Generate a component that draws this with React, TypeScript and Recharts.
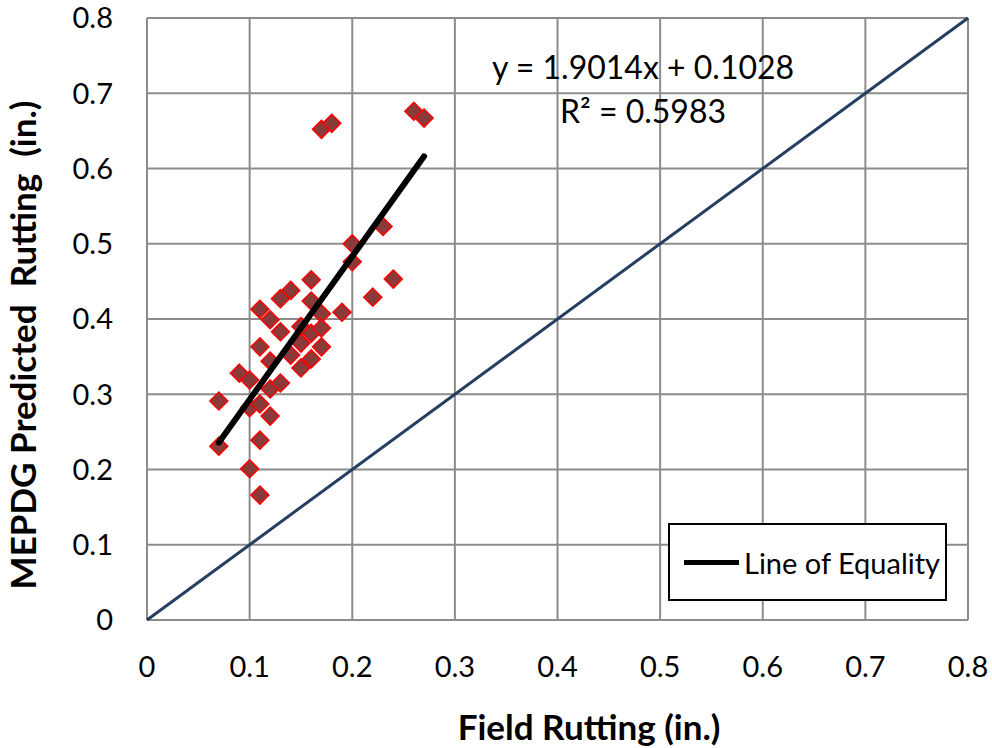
import { CartesianGrid, Scatter, ScatterChart, XAxis, YAxis } from 'recharts';

const fieldRutting = [
	0.07, 0.07, 0.09, 0.1, 0.1, 0.1, 0.11, 0.11, 0.11, 0.11, 0.11, 0.12, 0.12, 0.12, 0.12, 0.13, 0.13, 0.13, 0.14, 0.14,
	0.15, 0.15, 0.15, 0.16, 0.16, 0.16, 0.16, 0.17, 0.17, 0.17, 0.17, 0.18, 0.19, 0.2, 0.2, 0.22, 0.23, 0.24, 0.26, 0.27
];
const predictedRutting = [
	0.291, 0.231, 0.328, 0.319, 0.282, 0.201, 0.413, 0.363, 0.287, 0.239, 0.166, 0.399, 0.344, 0.307, 0.271, 0.427, 0.383,
	0.315, 0.438, 0.352, 0.39, 0.368, 0.335, 0.452, 0.424, 0.381, 0.347, 0.652, 0.407, 0.388, 0.363, 0.66, 0.409, 0.5,
	0.476, 0.429, 0.523, 0.453, 0.676, 0.667
];
const ticks = [0, 0.1, 0.2, 0.3, 0.4, 0.5, 0.6, 0.7, 0.8];
const slope = 1.9014;
const intercept = 0.1028;
const trendRange = [0.07, 0.27];
const equalityRange = [0, 0.8];

const points = fieldRutting.map((x, i) => ({ x, y: predictedRutting[i] }));
const trend = trendRange.map((x) => ({ x, y: slope * x + intercept }));
const equality = equalityRange.map((x) => ({ x, y: x }));

const font = 'Lato, "Open Sans", sans-serif';

function Diamond(props: any) {
	const { cx, cy } = props;
	const r = 9;
	return (
		<polygon
			points={`${cx},${cy - r} ${cx + r},${cy} ${cx},${cy + r} ${cx - r},${cy}`}
			fill="#8B3A3A"
			stroke="#FF0000"
			strokeWidth={1.5}
		/>
	);
}

export default function App() {
	return (
		<div style={{ position: 'absolute', left: 0, top: 0, width: 992, height: 748, background: '#fff' }}>
			<ScatterChart width={992} height={748} margin={{ top: 18, right: 24, left: 0, bottom: 0 }}>
				<CartesianGrid stroke="#8c8c8c" strokeWidth={2} />
				<XAxis
					type="number"
					dataKey="x"
					domain={[0, 0.8]}
					ticks={ticks}
					height={128}
					axisLine={{ stroke: '#8c8c8c', strokeWidth: 2 }}
					tickLine={false}
					tickSize={0}
					tickMargin={36}
					tick={{ fill: '#000', fontSize: 29, fontFamily: font }}
				/>
				<YAxis
					type="number"
					dataKey="y"
					domain={[0, 0.8]}
					ticks={ticks}
					width={147}
					axisLine={{ stroke: '#8c8c8c', strokeWidth: 2 }}
					tickLine={false}
					tickSize={0}
					tickMargin={34}
					tick={{ fill: '#000', fontSize: 29, fontFamily: font }}
				/>
				<Scatter
					data={equality}
					line={{ stroke: '#243F60', strokeWidth: 3 }}
					shape={() => null}
					isAnimationActive={false}
				/>
				<Scatter data={points} shape={Diamond} isAnimationActive={false} />
				<Scatter
					data={trend}
					line={{ stroke: '#000', strokeWidth: 6, strokeLinecap: 'round' }}
					shape={() => null}
					isAnimationActive={false}
				/>
			</ScatterChart>
			<div
				style={{
					position: 'absolute',
					left: 668,
					top: 523,
					width: 279,
					height: 78,
					border: '2px solid #000',
					background: '#fff',
					boxSizing: 'border-box',
					display: 'flex',
					alignItems: 'center',
					fontFamily: font,
					fontSize: 29
				}}
			>
				<div style={{ width: 55, height: 5, background: '#000', marginLeft: 14, marginRight: 5 }} />
				<span>Line of Equality</span>
			</div>
			<div
				style={{
					position: 'absolute',
					left: 643,
					top: 45,
					transform: 'translateX(-50%)',
					fontFamily: font,
					fontSize: 32,
					textAlign: 'center',
					lineHeight: '44px',
					whiteSpace: 'nowrap'
				}}
			>
				<div>y = 1.9014x + 0.1028</div>
				<div>R² = 0.5983</div>
			</div>
			<div
				style={{
					position: 'absolute',
					left: 589,
					top: 726,
					transform: 'translate(-50%, -50%)',
					fontFamily: font,
					fontSize: 35,
					fontWeight: 'bold',
					whiteSpace: 'nowrap'
				}}
			>
				Field Rutting (in.)
			</div>
			<div
				style={{
					position: 'absolute',
					left: 22,
					top: 345,
					transform: 'translate(-50%, -50%) rotate(-90deg)',
					fontFamily: font,
					fontSize: 35,
					fontWeight: 'bold',
					whiteSpace: 'pre'
				}}
			>
				MEPDG Predicted  Rutting  (in.)
			</div>
		</div>
	);
}
